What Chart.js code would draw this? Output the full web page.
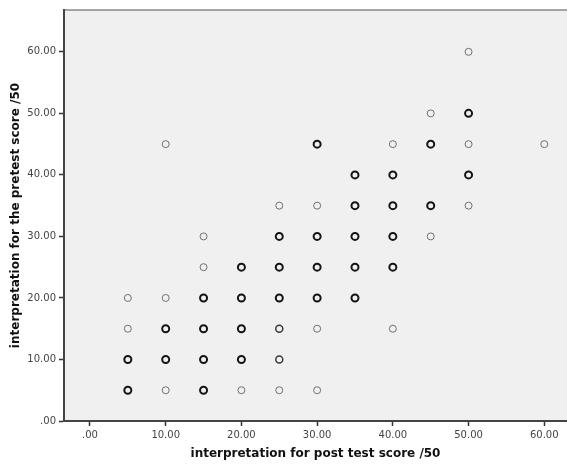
<!DOCTYPE html>
<html>
<head>
<meta charset="utf-8">
<script src="https://cdn.jsdelivr.net/npm/chart.js@4/dist/chart.umd.min.js"></script>
<style>
	html, body { margin: 0; padding: 0; background: #fff; }
	#wrap { width: 567px; height: 466px; }
</style>
</head>
<body>
<div id="wrap"><canvas id="scatter" width="567" height="466"></canvas></div>
<script>

	/* Data --------------------------------------------------------- */

	// post test score (x) / pretest score (y), one circle per case
	var singleX = [5, 5, 10, 10, 10, 15, 15, 20, 25, 25, 30, 30, 30, 40, 40, 45, 45, 50, 50, 50, 60];
	var singleY = [15, 20, 5, 20, 45, 25, 30, 5, 5, 35, 5, 15, 35, 15, 45, 30, 50, 35, 45, 60, 45];

	// overlapping cases (two on one spot)
	var doubleX = [25, 25];
	var doubleY = [10, 15];

	// heavily overlapping cases
	var manyX = [5, 5, 10, 10, 15, 15, 15, 15, 20, 20, 20, 20, 25, 25, 25,
		30, 30, 30, 30, 35, 35, 35, 35, 35, 40, 40, 40, 40, 45, 45, 50, 50];
	var manyY = [5, 10, 10, 15, 5, 10, 15, 20, 10, 15, 20, 25, 20, 25, 30,
		20, 25, 30, 45, 20, 25, 30, 35, 40, 25, 30, 35, 40, 35, 45, 40, 50];

	var xTicks = [0, 10, 20, 30, 40, 50, 60];
	var yTicks = [0, 10, 20, 30, 40, 50, 60];

	/* -------------------------------------------------------------- */

	function pairs(xs, ys){
		return xs.map(function(x, i){ return {x : x, y : ys[i]}; });
	}

	function fmt(v){
		return v === 0 ? '.00' : v.toFixed(2);
	}

	var plotBack = {
		id : 'plotBack',
		beforeDraw : function(chart){
			var a = chart.chartArea, ctx = chart.ctx;
			ctx.save();
			ctx.fillStyle = '#f0f0f0';
			ctx.fillRect(a.left, a.top, a.right - a.left, a.bottom - a.top);
			ctx.strokeStyle = '#8a8a8a';
			ctx.lineWidth = 1.5;
			ctx.beginPath();
			ctx.moveTo(a.left, a.top);
			ctx.lineTo(a.right, a.top);
			ctx.stroke();
			ctx.restore();
		}
	};

	var tickFont = { family : 'DejaVu Sans', size : 10 };
	var titleFont = { family : 'DejaVu Sans', size : 12, weight : 'bold' };

	var container = document.getElementById("scatter");

	var chart = new Chart(container, {
		type : 'scatter',
		data : {
			datasets : [{
				label : 'single',
				data : pairs(singleX, singleY),
				pointRadius : 3.5,
				pointBorderWidth : 1,
				borderColor : '#707070',
				backgroundColor : 'rgba(0,0,0,0)'
			}, {
				label : 'double',
				data : pairs(doubleX, doubleY),
				pointRadius : 3.5,
				pointBorderWidth : 1.5,
				borderColor : '#3a3a3a',
				backgroundColor : 'rgba(0,0,0,0)'
			}, {
				label : 'many',
				data : pairs(manyX, manyY),
				pointRadius : 3.5,
				pointBorderWidth : 2,
				borderColor : '#141414',
				backgroundColor : 'rgba(0,0,0,0)'
			}]
		},
		plugins : [plotBack],
		options : {
			responsive : false,
			animation : false,
			devicePixelRatio : 1,
			layout : {
				autoPadding : false,
				padding : { top : 10, left : 0, right : 0, bottom : 0 }
			},
			plugins : {
				legend : { display : false },
				tooltip : { enabled : false }
			},
			scales : {
				x : {
					type : 'linear',
					min : -3.43,
					max : 63,
					afterBuildTicks : function(scale){
						scale.ticks = xTicks.map(function(v){ return {value : v}; });
					},
					afterFit : function(scale){ scale.height = 45; },
					ticks : {
						color : '#444',
						font : tickFont,
						padding : 3,
						maxRotation : 0,
						callback : function(v){ return fmt(v); }
					},
					grid : {
						drawOnChartArea : false,
						drawTicks : true,
						tickLength : 5,
						color : '#333',
						tickWidth : 1.5
					},
					border : { display : true, color : '#444', width : 2 },
					title : {
						display : true,
						text : 'interpretation for post test score /50',
						color : '#111',
						font : titleFont,
						padding : { top : 0, bottom : 5 }
					}
				},
				y : {
					type : 'linear',
					min : 0,
					max : 66.8,
					afterBuildTicks : function(scale){
						scale.ticks = yTicks.map(function(v){ return {value : v}; });
					},
					afterFit : function(scale){ scale.width = 64; },
					ticks : {
						color : '#444',
						font : tickFont,
						padding : 3,
						callback : function(v){ return fmt(v); }
					},
					grid : {
						drawOnChartArea : false,
						drawTicks : true,
						tickLength : 5,
						color : '#333',
						tickWidth : 1.5
					},
					border : { display : true, color : '#444', width : 2 },
					title : {
						display : true,
						text : 'interpretation for the pretest score /50',
						color : '#111',
						font : titleFont,
						padding : { top : 9, bottom : 0 }
					}
				}
			}
		}
	});

</script>
</body>
</html>
